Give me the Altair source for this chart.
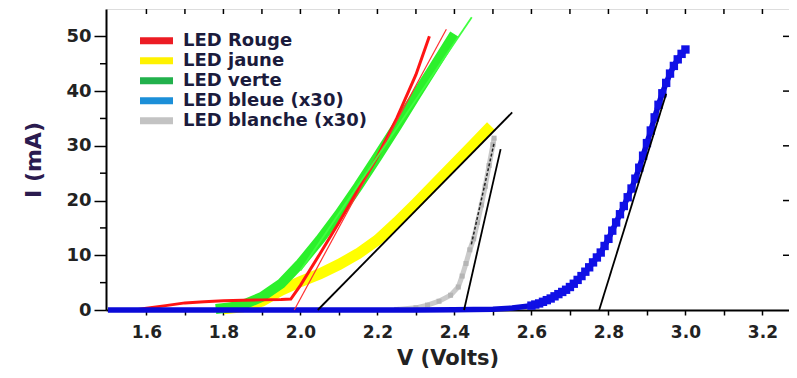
import altair as alt
import pandas as pd

# ---------------- data ----------------
red_v = [1.57, 1.60, 1.65, 1.70, 1.75, 1.80, 1.85, 1.90, 1.95, 1.975, 2.00, 2.05, 2.10, 2.15, 2.20, 2.25, 2.30, 2.335]
red_i = [0.0, 0.3, 0.8, 1.3, 1.5, 1.7, 1.8, 1.85, 1.9, 2.0, 4.5, 10.2, 16.0, 22.0, 28.0, 35.0, 43.0, 50.0]

yellow_v = [1.80, 1.85, 1.90, 1.95, 2.00, 2.05, 2.10, 2.15, 2.20, 2.25, 2.30, 2.35, 2.40, 2.45, 2.495]
yellow_i = [0.2, 0.6, 1.6, 3.6, 5.2, 6.6, 8.3, 10.3, 12.8, 16.0, 19.5, 23.1, 26.7, 30.3, 33.6]

green_v = [1.78, 1.82, 1.86, 1.90, 1.95, 2.00, 2.05, 2.10, 2.15, 2.20, 2.25, 2.30, 2.35, 2.40]
green_i = [0.2, 0.5, 1.2, 2.4, 4.8, 8.5, 12.8, 17.5, 22.6, 28.0, 33.5, 39.2, 44.8, 50.4]

white_v = [2.25, 2.30, 2.33, 2.36, 2.39, 2.41, 2.42, 2.43, 2.44, 2.45, 2.46, 2.47, 2.48, 2.49, 2.50, 2.503]
white_i = [0.1, 0.4, 0.9, 1.6, 2.7, 4.2, 6.2, 8.5, 11.0, 13.0, 16.0, 19.2, 22.6, 26.4, 30.2, 31.4]

blue_base_v = [1.50, 2.00, 2.30, 2.40, 2.45, 2.50, 2.55]
blue_base_i = [0.0, 0.0, 0.0, 0.05, 0.1, 0.15, 0.35]

blue_v = [2.60, 2.61, 2.62, 2.63, 2.64, 2.65, 2.66, 2.67, 2.68, 2.69, 2.70, 2.71, 2.72, 2.73, 2.74,
          2.75, 2.76, 2.77, 2.78, 2.79, 2.80, 2.81, 2.82, 2.83, 2.84, 2.85, 2.86, 2.87, 2.88, 2.89,
          2.90, 2.91, 2.92, 2.93, 2.94, 2.95, 2.96, 2.97, 2.98, 2.99, 3.00]
blue_i = [0.8, 1.0, 1.2, 1.5, 1.8, 2.1, 2.5, 2.9, 3.3, 3.7, 4.2, 4.8, 5.5, 6.2, 7.0,
          7.8, 8.7, 9.6, 10.5, 11.7, 13.0, 14.5, 16.0, 17.5, 19.0, 20.6, 22.2, 24.0, 26.0, 28.2,
          30.5, 32.8, 35.2, 37.5, 39.6, 41.5, 43.2, 44.6, 45.8, 46.8, 47.6]

# linear fits (end points)
fit_red_v = [1.984, 2.379]
fit_red_i = [0.0, 51.3]
fit_green_v = [2.00, 2.445]
fit_green_i = [7.2, 53.5]
fit_yellow_v = [2.045, 2.55]
fit_yellow_i = [0.0, 36.1]
fit_white_v = [2.425, 2.52]
fit_white_i = [0.0, 29.4]
fit_white_dash_v = [2.444, 2.503]
fit_white_dash_i = [12.0, 30.5]
fit_blue_v = [2.776, 2.95]
fit_blue_i = [0.0, 39.5]

x_ticks = [1.6, 1.7, 1.8, 1.9, 2.0, 2.1, 2.2, 2.3, 2.4, 2.5, 2.6, 2.7, 2.8, 2.9, 3.0, 3.1, 3.2]
y_major = [0, 10, 20, 30, 40, 50]
y_minor = [5, 15, 25, 35, 45]

legend_names = ["LED Rouge", "LED jaune", "LED verte", "LED bleue (x30)", "LED blanche (x30)"]
legend_colors = ["#ec1c24", "#fff200", "#22b14c", "#1c8fd8", "#c3c3c3"]

# ---------------- chart ----------------
FONT = "DejaVu Sans"


def df(v, i):
    return pd.DataFrame({"V": v, "I": i})


xs = alt.Scale(domain=[1.495, 3.269], nice=False, zero=False)
ys = alt.Scale(domain=[0, 55], nice=False, zero=False)

X = alt.X("V:Q", scale=xs, title="V (Volts)",
          axis=alt.Axis(values=x_ticks,
                        labelExpr="round(datum.value*10)%2==0 ? format(datum.value,'.1f') : ''",
                        tickSize=5, tickWidth=1.5, tickColor="#000", domainColor="#000", domainWidth=2,
                        labelFont=FONT, labelFontSize=17, labelFontWeight="bold", labelColor="#222",
                        labelPadding=9, grid=False, labelFlush=False,
                        titleFont=FONT, titleFontSize=21, titleFontWeight="bold", titleColor="#222",
                        titlePadding=7))
Y = alt.Y("I:Q", scale=ys, title="I (mA)",
          axis=alt.Axis(values=y_major, tickSize=12, tickWidth=1.5, tickColor="#000",
                        domainColor="#000", domainWidth=2,
                        labelFont=FONT, labelFontSize=18, labelFontWeight="bold", labelColor="#222",
                        labelPadding=3, grid=False,
                        titleFont=FONT, titleFontSize=22, titleFontWeight="bold", titleColor="#2b1b4f",
                        titlePadding=20))


def line(v, i, color, width, dash=None):
    kw = dict(color=color, strokeWidth=width, clip=False)
    if dash:
        kw["strokeDash"] = dash
    return alt.Chart(df(v, i)).mark_line(**kw).encode(x=X, y=Y, order="V:Q")


yellow = line(yellow_v, yellow_i, "#ffff00", 11)
green = line(green_v, green_i, "#2cf02c", 10)
red = line(red_v, red_i, "#ff1414", 3)
white_line = line(white_v, white_i, "#cacaca", 5)
white_pts = alt.Chart(df(white_v, white_i)).mark_point(shape="square", filled=True, size=25,
                                                         color="#b5b5b5", opacity=1).encode(x=X, y=Y)
blue_base = line(blue_base_v + blue_v, blue_base_i + blue_i, "#0a0ad8", 5.5)
blue_pts = alt.Chart(df(blue_v, blue_i)).mark_point(shape="square", filled=True, size=70,
                                                      color="#1010e6", opacity=1).encode(x=X, y=Y)

fits = [
    line(fit_red_v, fit_red_i, "#ff3030", 1.2),
    line(fit_green_v, fit_green_i, "#40ff40", 1.8),
    line(fit_yellow_v, fit_yellow_i, "#000000", 1.8),
    line(fit_white_v, fit_white_i, "#000000", 1.8),
    line(fit_white_dash_v, fit_white_dash_i, "#222222", 1.5, dash=[3, 2]),
    line(fit_blue_v, fit_blue_i, "#000000", 1.8),
]

# inward ticks on top and right, minor ticks on left
top_ticks = alt.Chart(pd.DataFrame({"V": x_ticks})).mark_rule(color="#000", strokeWidth=1.5).encode(
    x=X, y=alt.value(0), y2=alt.value(5))
right_ticks = alt.Chart(pd.DataFrame({"I": y_major[1:]})).mark_rule(color="#000", strokeWidth=1.5).encode(
    y=Y, x=alt.value(683), x2=alt.value(677))
left_minor = alt.Chart(pd.DataFrame({"I": y_minor})).mark_rule(color="#000", strokeWidth=1.5).encode(
    y=Y, x=alt.value(-6), x2=alt.value(0))

# legend drawn by hand
leg_df = pd.DataFrame({"name": legend_names, "color": legend_colors})
LY = alt.Y("name:N", scale=alt.Scale(domain=legend_names, range=[21.7, 121.7], padding=0), axis=None)
leg_sw = alt.Chart(leg_df).mark_rule(strokeWidth=7, strokeCap="butt").encode(
    y=LY, x=alt.value(34), x2=alt.value(67),
    color=alt.Color("color:N", scale=None, legend=None))
leg_tx = alt.Chart(leg_df).mark_text(align="left", baseline="middle", font=FONT, fontSize=18,
                                     fontWeight="bold", color="#1b1b3c").encode(
    y=LY, x=alt.value(77), text="name:N")
legend = alt.layer(leg_sw, leg_tx)

main = alt.layer(yellow, green, red, white_line, white_pts, blue_base, blue_pts, *fits,
                 top_ticks, right_ticks, left_minor)

chart = alt.layer(main, legend).resolve_scale(y="independent").properties(
    width=683, height=301,
    autosize=alt.AutoSizeParams(type="none"),
    padding={"left": 98, "top": 1, "right": 0, "bottom": 60},
).configure_view(stroke="#000", strokeWidth=1.5).configure(background="white")

chart.save("out.html", embed_options={"renderer": "svg", "actions": False})
